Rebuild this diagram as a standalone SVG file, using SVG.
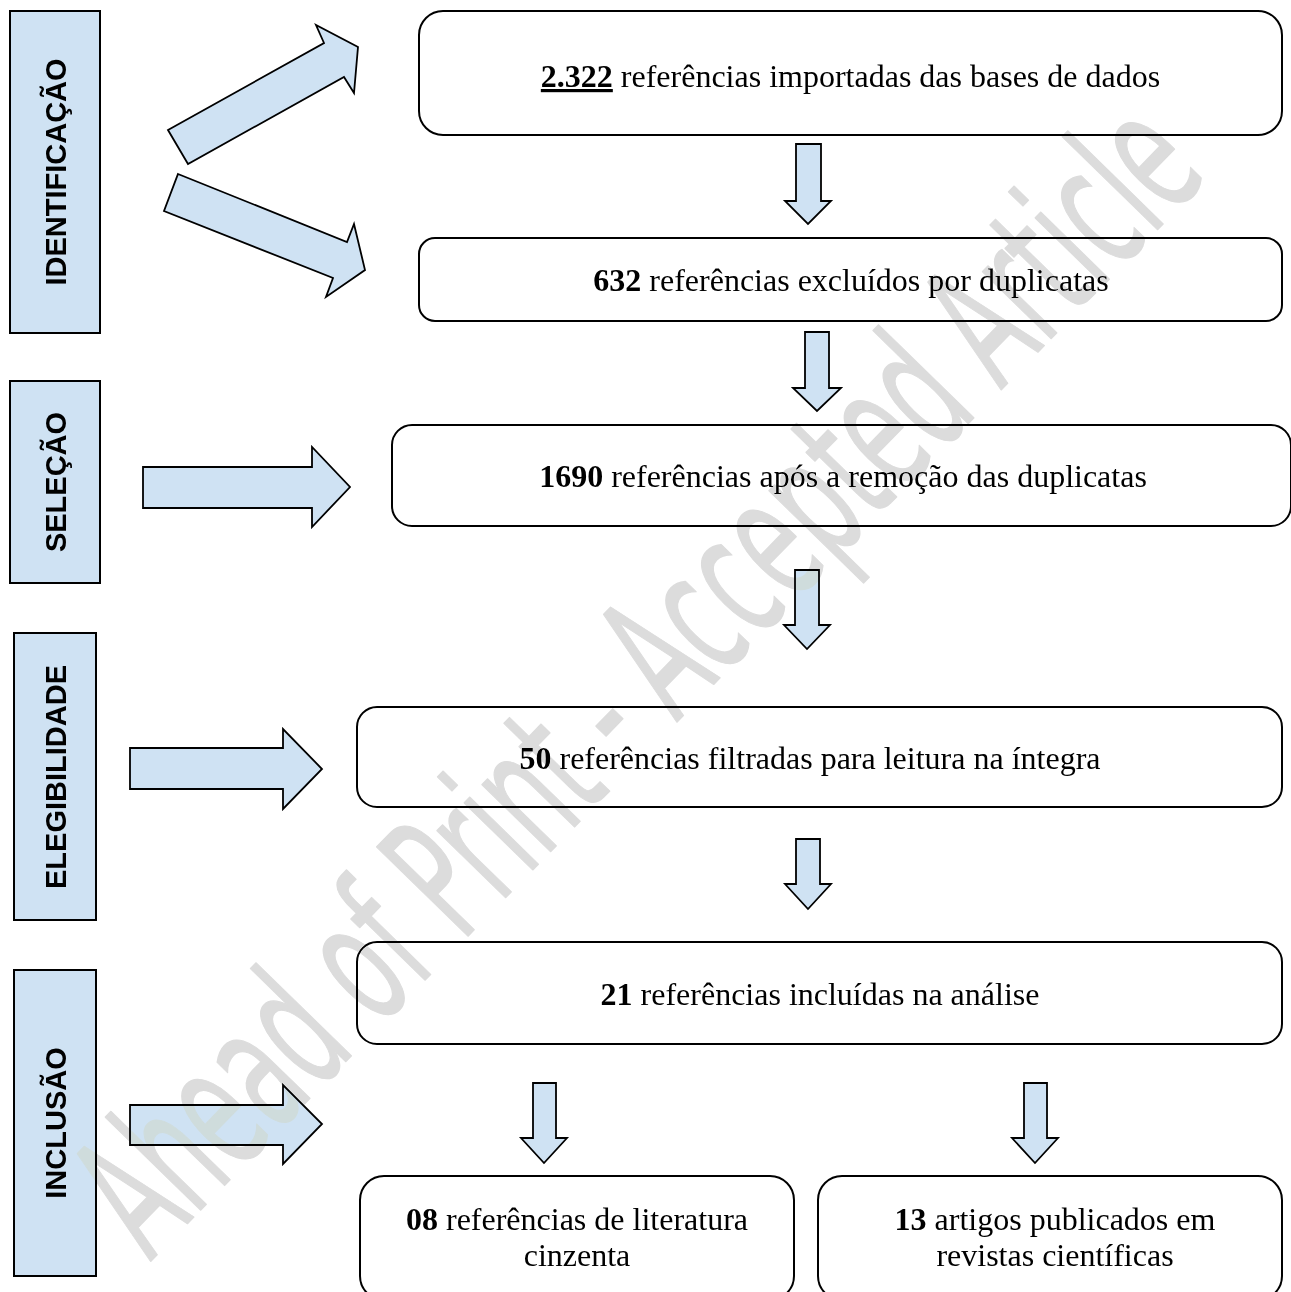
<svg xmlns="http://www.w3.org/2000/svg" width="1291" height="1292" viewBox="0 0 1291 1292">
<style>
.lbl{fill:#cfe2f3;stroke:#000;stroke-width:2}
.lt{font-family:"Liberation Sans",Arial,sans-serif;font-weight:bold;font-size:29px;fill:#000;text-anchor:middle}
.box{fill:#fff;stroke:#000;stroke-width:2}
.bt{font-family:"Liberation Serif","Times New Roman",serif;font-size:32px;fill:#000;text-anchor:middle}
.b{font-weight:bold}
.arr{fill:#cfe2f3;stroke:#000;stroke-width:1.8;stroke-linejoin:miter}
.wm{font-family:"DejaVu Sans",sans-serif;font-size:175px;fill:#dcdcdc;stroke:#dcdcdc;stroke-width:1.5;stroke-linejoin:round;mix-blend-mode:darken}
</style>
<rect width="1291" height="1292" fill="#fff"/>

<g id="label-identificacao">
<rect class="lbl" x="10" y="11" width="90" height="322"/>
<text class="lt" transform="translate(65.5,172) rotate(-90)">IDENTIFICAÇÃO</text>
</g>
<g id="label-selecao">
<rect class="lbl" x="10" y="381" width="90" height="202"/>
<text class="lt" transform="translate(66,482) rotate(-90)">SELEÇÃO</text>
</g>
<g id="label-elegibilidade">
<rect class="lbl" x="14" y="633" width="82" height="287"/>
<text class="lt" transform="translate(65.5,777) rotate(-90)">ELEGIBILIDADE</text>
</g>
<g id="label-inclusao">
<rect class="lbl" x="14" y="970" width="82" height="306"/>
<text class="lt" transform="translate(65.5,1123) rotate(-90)">INCLUSÃO</text>
</g>

<g id="connectors">
<polygon class="arr" points="168,130 324,43 316,25 358,47 354,93 344,77 188,164"/>
<polygon class="arr" points="178,174 347,242 354,224 365,270 326,297 333,278 164,211"/>
<polygon class="arr" points="796,144 821,144 821,201 831,201 808,224 785,201 796,201"/>
<polygon class="arr" points="805,332 829,332 829,388 841,388 817,411 793,388 805,388"/>
<polygon class="arr" points="795,570 819,570 819,625 830,625 807,649 784,625 795,625"/>
<polygon class="arr" points="796,839 820,839 820,884 831,884 808,909 785,884 796,884"/>
<polygon class="arr" points="533,1083 556,1083 556,1138 567,1138 544,1163 521,1138 533,1138"/>
<polygon class="arr" points="1024,1083 1047,1083 1047,1138 1058,1138 1035,1163 1012,1138 1024,1138"/>
<polygon class="arr" points="143,467 312,467 312,447 350,487 312,527 312,508 143,508"/>
<polygon class="arr" points="130,748 283,748 283,729 322,769 283,809 283,789 130,789"/>
<polygon class="arr" points="130,1105 283,1105 283,1085 322,1124 283,1164 283,1145 130,1145"/>
</g>

<g id="box-importadas">
<rect class="box" x="419" y="11" width="863" height="124" rx="24"/>
<text class="bt" x="850.5" y="87"><tspan class="b" text-decoration="underline" style="text-decoration:underline">2.322</tspan> referências importadas das bases de dados</text>
</g>
<g id="box-excluidos">
<rect class="box" x="419" y="238" width="863" height="83" rx="16"/>
<text class="bt" x="851" y="291"><tspan class="b">632</tspan> referências excluídos por duplicatas</text>
</g>
<g id="box-apos-remocao">
<rect class="box" x="392" y="425" width="899" height="101" rx="20"/>
<text class="bt" x="843" y="487"><tspan class="b">1690</tspan> referências após a remoção das duplicatas</text>
</g>
<g id="box-filtradas">
<rect class="box" x="357" y="707" width="925" height="100" rx="20"/>
<text class="bt" x="810" y="769"><tspan class="b">50</tspan> referências filtradas para leitura na íntegra</text>
</g>
<g id="box-incluidas">
<rect class="box" x="357" y="942" width="925" height="102" rx="20"/>
<text class="bt" x="820" y="1005"><tspan class="b">21</tspan> referências incluídas na análise</text>
</g>
<g id="box-literatura-cinzenta">
<rect class="box" x="360" y="1176" width="434" height="124" rx="24"/>
<text class="bt" x="577" y="1230"><tspan class="b">08</tspan> referências de literatura</text>
<text class="bt" x="577" y="1266">cinzenta</text>
</g>
<g id="box-artigos">
<rect class="box" x="818" y="1176" width="464" height="124" rx="24"/>
<text class="bt" x="1055" y="1230"><tspan class="b">13</tspan> artigos publicados em</text>
<text class="bt" x="1055" y="1266">revistas científicas</text>
</g>

<text class="wm" transform="translate(150,1262) rotate(-45.7)" textLength="1517" lengthAdjust="spacingAndGlyphs">Ahead of Print - Accepted Article</text>
</svg>
